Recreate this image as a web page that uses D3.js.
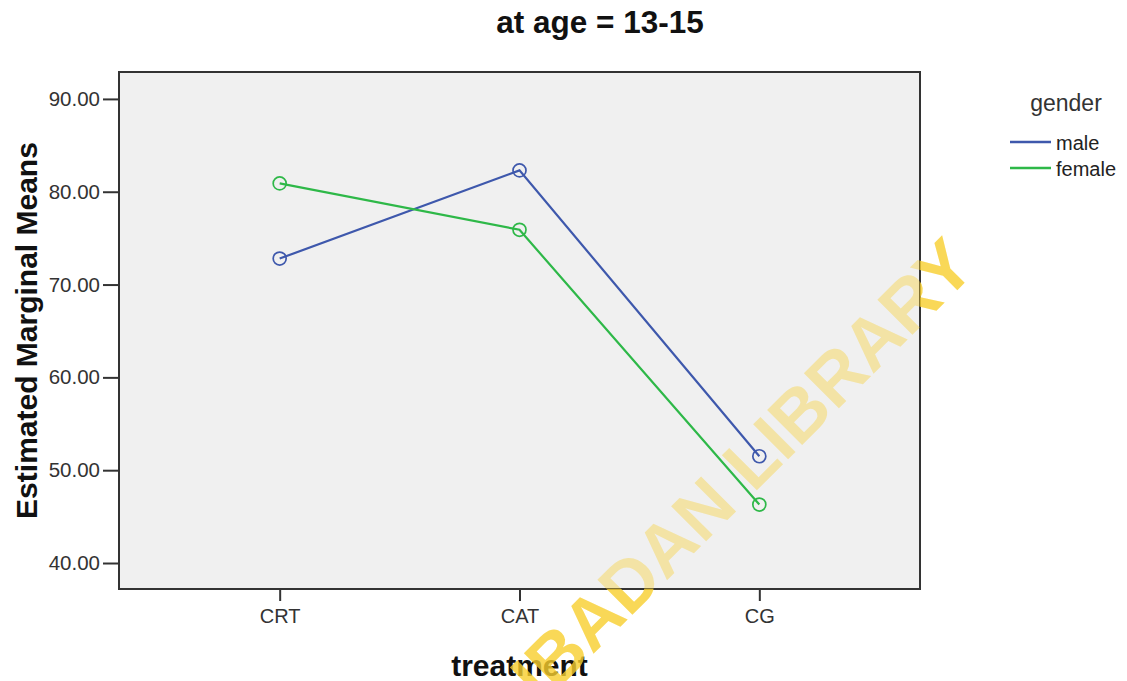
<!DOCTYPE html>
<html>
<head>
<meta charset="utf-8">
<script src="https://cdn.jsdelivr.net/npm/d3@7"></script>
<style>
  html, body { margin: 0; padding: 0; background: #fff; }
  svg { display: block; font-family: "Liberation Sans", Arial, sans-serif; }
</style>
</head>
<body>
<svg id="chart" width="1127" height="681"></svg>
<script>
const categories = ["CRT", "CAT", "CG"];
const maleValues = [72.8, 82.3, 51.5];
const femaleValues = [80.9, 75.9, 46.3];
const seriesNames = ["male", "female"];
const seriesColors = ["#3E58AC", "#2EB848"];
const yTicks = [40, 50, 60, 70, 80, 90];
const titleText = "at age = 13-15";
const xTitle = "treatment";
const yTitle = "Estimated Marginal Means";
const legendTitle = "gender";
const watermarkText = "IBADAN LIBRARY";

const series = [
  { name: seriesNames[0], color: seriesColors[0], values: maleValues },
  { name: seriesNames[1], color: seriesColors[1], values: femaleValues }
];

const svg = d3.select("#chart");
const plot = { left: 119, right: 920, top: 72, bottom: 589 };

const x = d3.scalePoint().domain(categories).range([plot.left, plot.right]).padding(0.67);
const y = d3.scaleLinear().domain([37.2, 92.9]).range([plot.bottom, plot.top]);

// plot background
svg.append("rect")
  .attr("x", plot.left).attr("y", plot.top)
  .attr("width", plot.right - plot.left).attr("height", plot.bottom - plot.top)
  .attr("fill", "#F0F0F0");

// Lines and markers
const line = d3.line().x((d, i) => x(categories[i])).y(d => y(d));
const g = svg.append("g");
series.forEach(s => {
  g.append("path").datum(s.values)
    .attr("d", line).attr("fill", "none")
    .attr("stroke", s.color).attr("stroke-width", 2.2);
  g.selectAll(null).data(s.values).enter().append("circle")
    .attr("cx", (d, i) => x(categories[i])).attr("cy", d => y(d))
    .attr("r", 6.5).attr("fill", "none")
    .attr("stroke", s.color).attr("stroke-width", 1.7);
});

// frame
svg.append("rect")
  .attr("x", plot.left).attr("y", plot.top)
  .attr("width", plot.right - plot.left).attr("height", plot.bottom - plot.top)
  .attr("fill", "none").attr("stroke", "#333").attr("stroke-width", 2);

// Y axis
const yAxis = svg.append("g").attr("transform", `translate(${plot.left},0)`)
  .call(d3.axisLeft(y).tickValues(yTicks).tickFormat(d3.format(".2f")).tickSize(16).tickPadding(3));
yAxis.select(".domain").remove();
yAxis.selectAll(".tick line").attr("stroke", "#333").attr("stroke-width", 2);
yAxis.selectAll(".tick text").attr("font-size", 20.5).attr("fill", "#333")
  .attr("font-family", "Liberation Sans, Arial, sans-serif");

// X axis
const xAxis = svg.append("g").attr("transform", `translate(0,${plot.bottom})`)
  .call(d3.axisBottom(x).tickSize(12).tickPadding(8));
xAxis.select(".domain").remove();
xAxis.selectAll(".tick line").attr("stroke", "#333").attr("stroke-width", 2);
xAxis.selectAll(".tick text").attr("font-size", 20).attr("fill", "#333")
  .attr("font-family", "Liberation Sans, Arial, sans-serif");

// Titles
svg.append("text").attr("x", 600).attr("y", 33).attr("text-anchor", "middle")
  .attr("font-size", 31.5).attr("font-weight", "bold").attr("fill", "#111").text(titleText);
svg.append("text").attr("x", x("CAT")).attr("y", 676).attr("text-anchor", "middle")
  .attr("font-size", 30).attr("font-weight", "bold").attr("fill", "#111").text(xTitle);
svg.append("text").attr("transform", `translate(37,${(plot.top + plot.bottom) / 2}) rotate(-90)`)
  .attr("text-anchor", "middle")
  .attr("font-size", 30).attr("font-weight", "bold").attr("fill", "#111").text(yTitle);

// Legend
svg.append("text").attr("x", 1066).attr("y", 111).attr("text-anchor", "middle")
  .attr("font-size", 23).attr("fill", "#333").text(legendTitle);
series.forEach((s, i) => {
  const ly = 142 + i * 26;
  svg.append("line").attr("x1", 1010).attr("x2", 1051).attr("y1", ly).attr("y2", ly)
    .attr("stroke", s.color).attr("stroke-width", 2.5);
  svg.append("text").attr("x", 1056).attr("y", ly + 8)
    .attr("font-size", 20).attr("fill", "#222").text(s.name);
});

// Watermark (stronger outside the plot, paler over the plot area)
const defs = svg.append("defs");
defs.append("clipPath").attr("id", "inPlot").append("rect")
  .attr("x", plot.left).attr("y", plot.top)
  .attr("width", plot.right - plot.left).attr("height", plot.bottom - plot.top);
const mask = defs.append("mask").attr("id", "outPlot");
mask.append("rect").attr("width", 1127).attr("height", 681).attr("fill", "white");
mask.append("rect").attr("x", plot.left).attr("y", plot.top)
  .attr("width", plot.right - plot.left).attr("height", plot.bottom - plot.top).attr("fill", "black");
const wOut = svg.append("g").attr("mask", "url(#outPlot)");
const wIn = svg.append("g").attr("clip-path", "url(#inPlot)");
[[wOut, 0.8], [wIn, 0.38]].forEach(([grp, op]) => {
  grp.append("text")
    .attr("transform", "translate(742,470) rotate(-45)")
    .attr("text-anchor", "middle").attr("dominant-baseline", "central")
    .attr("font-size", 72).attr("font-weight", "bold")
    .attr("fill", "#F8CF2E").attr("opacity", op).text(watermarkText);
});
</script>
</body>
</html>
